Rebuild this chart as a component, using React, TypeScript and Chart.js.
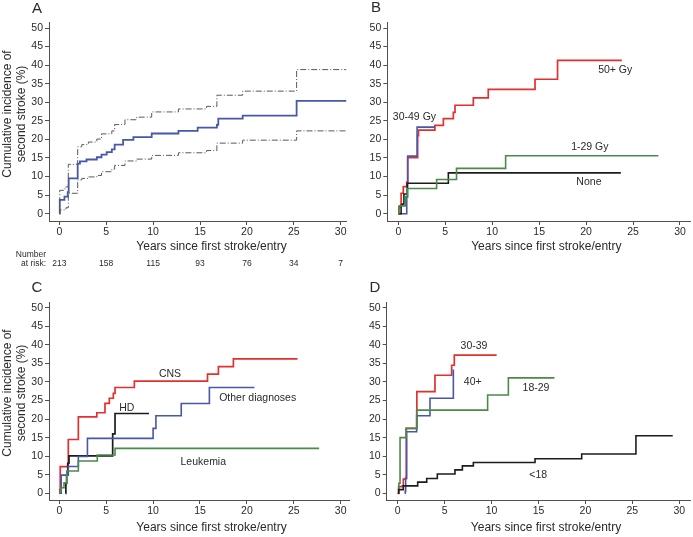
import React, { useEffect, useRef } from 'react';
import { Chart, registerables } from 'chart.js';

Chart.register(...registerables);

// ---------- data ----------
const xTickValues = [0, 5, 10, 15, 20, 25, 30];
const yTickValues = [0, 5, 10, 15, 20, 25, 30, 35, 40, 45, 50];
const riskTimes = [0, 5, 10, 15, 20, 25, 30];
const numberAtRisk = [213, 158, 115, 93, 76, 34, 7];

// Panel A: overall cumulative incidence with 95% CI
const aEstimate: [number, number][] = [[0, 0], [0.05, 3.7], [0.55, 4.6], [0.9, 5.8], [1.0, 9.5], [1.96, 13.5], [2.2, 14.1], [2.9, 14.6], [4.0, 15.2], [4.5, 15.9], [5.05, 16.6], [5.6, 17.3], [5.9, 18.6], [6.8, 19.9], [7.9, 20.6], [9.85, 21.6], [12.7, 22.3], [14.75, 23.2], [16.8, 23.9], [16.95, 25.6], [19.55, 26.4], [25.3, 30.4], [30.6, 30.4]];
const aUpper: [number, number][] = [[0, 0], [0.05, 6.3], [0.6, 7.2], [0.96, 13.3], [1.96, 18.0], [2.4, 18.6], [3.1, 19.3], [4.0, 20.1], [4.5, 21.5], [5.6, 22.3], [5.9, 24.0], [7.0, 25.3], [8.25, 26.0], [9.85, 27.4], [12.7, 28.2], [15.7, 28.9], [16.8, 31.9], [19.55, 33.0], [25.3, 38.8], [30.6, 38.8]];
const aLower: [number, number][] = [[0, 0], [0.05, 1.0], [0.7, 1.6], [0.96, 5.5], [1.96, 9.1], [2.4, 9.5], [3.1, 9.9], [4.0, 10.3], [4.5, 11.3], [5.6, 12.0], [5.9, 13.0], [7.0, 14.2], [8.25, 14.7], [9.85, 15.7], [12.7, 16.4], [15.7, 17.0], [16.8, 19.0], [19.55, 19.8], [25.3, 22.3], [30.6, 22.3]];

// Panel B: by radiation dose
const b50plus: [number, number][] = [[0, 0], [0.07, 1.9], [0.3, 5.5], [0.53, 7.3], [0.9, 8.5], [1.0, 15.1], [2.06, 21.0], [2.15, 22.5], [3.9, 23.8], [4.8, 25.6], [5.86, 27.3], [6.04, 29.2], [7.99, 31.2], [9.58, 33.5], [14.56, 36.2], [16.96, 41.3], [23.8, 41.3]];
const b30to49: [number, number][] = [[0, 0], [0.85, 0], [0.9, 4.5], [1.0, 15.5], [2.0, 23.3], [3.9, 23.3]];
const b1to29: [number, number][] = [[0, 0], [0.05, 1.5], [0.1, 2.1], [0.75, 4.6], [0.95, 6.8], [4.08, 9.2], [6.2, 12.2], [11.43, 15.6], [27.7, 15.6]];
const bNone: [number, number][] = [[0, 0], [0.3, 2.3], [0.45, 2.6], [0.6, 5.3], [0.95, 8.2], [5.33, 11.0], [23.7, 11.0]];

// Panel C: by primary diagnosis
const cCNS: [number, number][] = [[0, 0], [0.05, 1.0], [0.1, 7.2], [0.96, 14.5], [2.03, 20.6], [4.0, 21.7], [4.87, 24.2], [5.33, 25.6], [5.76, 26.9], [5.94, 28.5], [8.0, 30.2], [15.8, 32.1], [16.96, 34.1], [18.56, 36.2], [25.4, 36.2]];
const cOther: [number, number][] = [[0, 0], [0.2, 4.9], [0.96, 7.2], [2.03, 9.9], [3.0, 14.8], [10.0, 17.5], [10.3, 20.9], [13.0, 24.2], [16.0, 28.5], [20.8, 28.5]];
const cHD: [number, number][] = [[0.65, 0], [0.7, 2.7], [0.78, 4.9], [0.9, 8.1], [1.03, 10.1], [5.69, 16.0], [5.94, 21.5], [9.56, 21.5]];
const cLeukemia: [number, number][] = [[0, 0], [0.05, 0.6], [0.2, 1.5], [0.5, 2.8], [0.8, 6.0], [2.03, 8.7], [4.05, 10.3], [5.94, 12.1], [27.7, 12.1]];

// Panel D: by age
const d30to39: [number, number][] = [[0, 0], [0.1, 1.8], [0.5, 2.0], [0.6, 3.8], [0.85, 4.2], [0.92, 17.5], [2.04, 27.4], [3.97, 31.8], [5.75, 34.5], [6.03, 37.2], [10.54, 37.2]];
const d40plus: [number, number][] = [[0.75, 0], [0.8, 0.5], [0.85, 4.0], [0.95, 16.6], [2.02, 20.9], [3.44, 25.6], [5.93, 33.2], [5.96, 33.2]];
const d18to29: [number, number][] = [[0.1, 0], [0.12, 2.7], [0.25, 15.0], [0.89, 17.5], [2.02, 22.4], [9.58, 26.5], [11.79, 31.1], [16.7, 31.1]];
const dUnder18: [number, number][] = [[0, 0], [0.1, 1.0], [0.6, 2.0], [2.13, 3.0], [3.09, 4.0], [4.22, 5.2], [6.1, 6.3], [6.89, 7.4], [8.06, 8.3], [14.63, 9.3], [19.6, 10.6], [25.38, 15.5], [29.3, 15.5]];

// ---------- styling ----------
const FONT = '"Liberation Sans", Arial, Helvetica, sans-serif';
const TEXT = '#2a2a2a';
const AXIS = '#505050';
const RED = '#e2302e';
const BLUE = '#4757aa';
const GREEN = '#4b8b49';
const BLACK = '#1c1c1c';
const GRAY = '#5a5a5a';
const xTitle = 'Years since first stroke/entry';
const yTitle = ['Cumulative incidence of', 'second stroke (%)'];

type Series = { data: [number, number][]; color: string; width: number; dash?: number[] };
type TextItem = { text: string; size: number; dx?: number; dy?: number; px?: number; py?: number; rotate?: number; align?: CanvasTextAlign };
type PanelDef = {
  left: number; top: number; w: number; h: number;
  axLeft: number; axRight: number; axBottom: number;
  x0: number; x30: number; y0: number; y50: number;
  series: Series[];
  texts: TextItem[]; // px/py in page coordinates, dx/dy in data coordinates
};

const panels: PanelDef[] = [
  {
    left: 0, top: 0, w: 350, h: 270,
    axLeft: 49, axRight: 346.7, axBottom: 221,
    x0: 59.3, x30: 340.7, y0: 213.7, y50: 28,
    series: [
      { data: aUpper, color: GRAY, width: 1, dash: [6, 2, 1, 2] },
      { data: aLower, color: GRAY, width: 1, dash: [6, 2, 1, 2] },
      { data: aEstimate, color: BLUE, width: 1.8 },
    ],
    texts: [
      { text: 'A', size: 15, px: 37, py: 9 },
      { text: yTitle[0], size: 12, px: 8, py: 114, rotate: -Math.PI / 2 },
      { text: yTitle[1], size: 12, px: 22, py: 114, rotate: -Math.PI / 2 },
      { text: xTitle, size: 12, px: 211.5, py: 246.5 },
      { text: 'Number', size: 8.5, px: 46, py: 255, align: 'right' },
      { text: 'at risk:', size: 8.5, px: 46, py: 263.5, align: 'right' },
      ...numberAtRisk.map((n, i) => ({ text: String(n), size: 8.5, dx: riskTimes[i], py: 263.5 })),
    ],
  },
  {
    left: 350, top: 0, w: 343, h: 270,
    axLeft: 387.3, axRight: 690, axBottom: 221,
    x0: 398.3, x30: 680, y0: 213.7, y50: 28,
    series: [
      { data: b1to29, color: GREEN, width: 1.6 },
      { data: bNone, color: BLACK, width: 1.6 },
      { data: b30to49, color: BLUE, width: 1.6 },
      { data: b50plus, color: RED, width: 1.7 },
    ],
    texts: [
      { text: 'B', size: 15, px: 376, py: 8 },
      { text: xTitle, size: 12, px: 546.3, py: 246.5 },
      { text: '50+ Gy', size: 10.5, dx: 23.1, dy: 38.7 },
      { text: '30-49 Gy', size: 10.5, dx: 1.72, dy: 26.0 },
      { text: '1-29 Gy', size: 10.5, dx: 20.4, dy: 18.0 },
      { text: 'None', size: 10.5, dx: 20.3, dy: 8.45 },
    ],
  },
  {
    left: 0, top: 270, w: 350, h: 267,
    axLeft: 49, axRight: 349.3, axBottom: 500,
    x0: 59.3, x30: 340.7, y0: 493.3, y50: 307.7,
    series: [
      { data: cLeukemia, color: GREEN, width: 1.6 },
      { data: cOther, color: BLUE, width: 1.6 },
      { data: cHD, color: BLACK, width: 1.7 },
      { data: cCNS, color: RED, width: 1.7 },
    ],
    texts: [
      { text: 'C', size: 15, px: 37, py: 288 },
      { text: yTitle[0], size: 12, px: 7.5, py: 393, rotate: -Math.PI / 2 },
      { text: yTitle[1], size: 12, px: 21.5, py: 393, rotate: -Math.PI / 2 },
      { text: xTitle, size: 12, px: 211.5, py: 528 },
      { text: 'CNS', size: 10.5, dx: 11.8, dy: 32.1 },
      { text: 'HD', size: 10.5, dx: 7.19, dy: 22.9 },
      { text: 'Other diagnoses', size: 10.5, dx: 21.15, dy: 25.7 },
      { text: 'Leukemia', size: 10.5, dx: 15.35, dy: 8.5 },
    ],
  },
  {
    left: 350, top: 270, w: 343, h: 267,
    axLeft: 386.7, axRight: 690, axBottom: 500,
    x0: 397.7, x30: 679.3, y0: 493.3, y50: 307.7,
    series: [
      { data: dUnder18, color: BLACK, width: 1.6 },
      { data: d18to29, color: GREEN, width: 1.6 },
      { data: d40plus, color: BLUE, width: 1.6 },
      { data: d30to39, color: RED, width: 1.7 },
    ],
    texts: [
      { text: 'D', size: 15, px: 375, py: 288 },
      { text: xTitle, size: 12, px: 546, py: 527.5 },
      { text: '30-39', size: 10.5, dx: 8.13, dy: 39.7 },
      { text: '40+', size: 10.5, dx: 7.99, dy: 30.0 },
      { text: '18-29', size: 10.5, dx: 14.73, dy: 28.3 },
      { text: '<18', size: 10.5, dx: 14.97, dy: 4.9 },
    ],
  },
];

function makeTextPlugin(p: PanelDef) {
  return {
    id: 'panelTexts',
    afterDraw(chart: any) {
      const ctx = chart.ctx as CanvasRenderingContext2D;
      for (const it of p.texts) {
        const x = it.dx !== undefined ? chart.scales.x.getPixelForValue(it.dx) : (it.px as number) - p.left;
        const y = it.dy !== undefined ? chart.scales.y.getPixelForValue(it.dy) : (it.py as number) - p.top;
        ctx.save();
        ctx.font = `${it.size}px ${FONT}`;
        ctx.fillStyle = TEXT;
        ctx.textAlign = it.align || 'center';
        ctx.textBaseline = 'middle';
        ctx.translate(x, y);
        if (it.rotate) ctx.rotate(it.rotate);
        ctx.fillText(it.text, 0, 0);
        ctx.restore();
      }
    },
  };
}

function Panel({ p }: { p: PanelDef }) {
  const ref = useRef<HTMLCanvasElement | null>(null);
  useEffect(() => {
    if (!ref.current) return;
    const pxPerYear = (p.x30 - p.x0) / 30;
    const xMin = (p.axLeft - p.x0) / pxPerYear;
    const xMax = (p.axRight - p.x0) / pxPerYear;
    const pxPerPct = (p.y0 - p.y50) / 50;
    const yMin = -(p.axBottom - p.y0) / pxPerPct;
    const yMax = 51.5;
    const chartTop = p.y0 - yMax * pxPerPct - p.top;
    const yAxisWidth = p.axLeft - p.left;
    const xAxisHeight = p.top + p.h - p.axBottom;
    const padRight = p.left + p.w - p.axRight;

    const axisCommon = {
      type: 'linear' as const,
      grid: { display: true, drawOnChartArea: false, drawTicks: true, tickLength: 4, color: AXIS, lineWidth: 1 },
      border: { display: true, color: AXIS, width: 1 },
    };

    const chart = new Chart(ref.current, {
      type: 'line',
      data: {
        datasets: p.series.map((s) => ({
          data: s.data.map(([x, y]) => ({ x, y })),
          borderColor: s.color,
          borderWidth: s.width,
          borderDash: s.dash || [],
          stepped: 'before' as const,
          pointRadius: 0,
          fill: false,
          tension: 0,
          borderCapStyle: 'butt' as const,
          borderJoinStyle: 'miter' as const,
        })),
      },
      options: {
        animation: false,
        responsive: false,
        maintainAspectRatio: false,
        events: [],
        layout: { padding: { top: chartTop, right: padRight, left: 0, bottom: 0 } },
        plugins: { legend: { display: false }, tooltip: { enabled: false }, title: { display: false } },
        scales: {
          x: {
            ...axisCommon,
            min: xMin,
            max: xMax,
            afterBuildTicks: (axis: any) => { axis.ticks = xTickValues.map((v) => ({ value: v })); },
            afterFit: (scale: any) => { scale.height = xAxisHeight; },
            ticks: { color: TEXT, font: { family: FONT, size: 10.5 }, padding: 1, maxRotation: 0, autoSkip: false },
          },
          y: {
            ...axisCommon,
            min: yMin,
            max: yMax,
            afterBuildTicks: (axis: any) => { axis.ticks = yTickValues.map((v) => ({ value: v })); },
            afterFit: (scale: any) => { scale.width = yAxisWidth; },
            ticks: { color: TEXT, font: { family: FONT, size: 10.5 }, padding: 2, autoSkip: false },
          },
        },
      },
      plugins: [makeTextPlugin(p)],
    } as any);
    return () => chart.destroy();
  }, [p]);
  return (
    <canvas
      ref={ref}
      width={p.w}
      height={p.h}
      style={{ position: 'absolute', left: p.left, top: p.top, width: p.w, height: p.h }}
    />
  );
}

export default function App() {
  return (
    <div style={{ position: 'absolute', left: 0, top: 0, width: 693, height: 537, background: '#ffffff', overflow: 'hidden' }}>
      {panels.map((p, i) => (
        <Panel key={i} p={p} />
      ))}
    </div>
  );
}
